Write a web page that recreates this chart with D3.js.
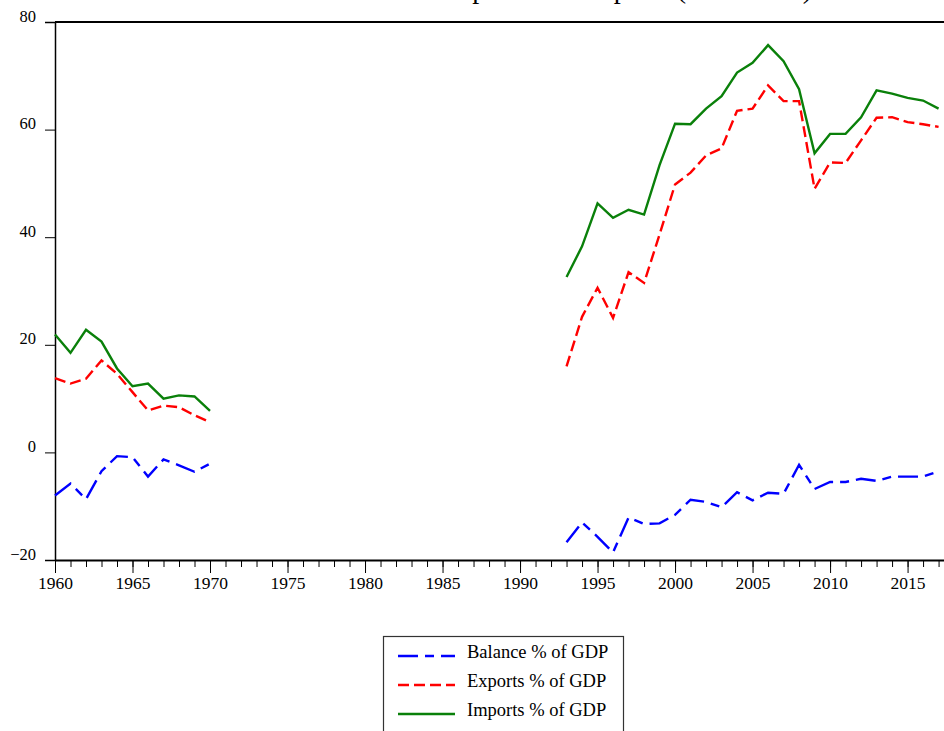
<!DOCTYPE html>
<html>
<head>
<meta charset="utf-8">
<script src="https://cdn.jsdelivr.net/npm/d3@7"></script>
<style>
  html, body { margin: 0; padding: 0; background: #fff; }
  svg { display: block; }
  text { font-family: "Liberation Serif", "DejaVu Serif", serif; fill: #000; }
</style>
</head>
<body>
<svg id="chart" width="944" height="731"></svg>
<script>
// ---- data ----
const years = d3.range(1960, 2018);
const N = null;
const balance = [-8.0, -5.8, -8.7, -3.5, -0.7, -0.9, -4.5, -1.3, -2.4, -3.6, -2.1,
  N, N, N, N, N, N, N, N, N, N, N, N, N, N, N, N, N, N, N, N, N, N,
  -16.7, -13.0, -15.7, -18.6, -12.1, -13.3, -13.2, -11.6, -8.8, -9.2, -10.2, -7.4, -8.9, -7.5, -7.7, -2.3, -6.8, -5.5, -5.5, -4.9, -5.3, -4.5, -4.5, -4.5, -3.5];
const exportsPct = [13.8, 12.8, 13.7, 17.1, 14.6, 11.2, 7.8, 8.7, 8.4, 6.9, 5.6,
  N, N, N, N, N, N, N, N, N, N, N, N, N, N, N, N, N, N, N, N, N, N,
  16.0, 25.2, 30.6, 25.0, 33.5, 31.5, 40.5, 49.8, 52.0, 55.2, 56.5, 63.5, 63.9, 68.2, 65.3, 65.3, 49.0, 53.9, 53.8, 58.0, 62.2, 62.3, 61.4, 61.0, 60.5];
const importsPct = [21.9, 18.5, 22.8, 20.6, 15.6, 12.3, 12.8, 10.0, 10.6, 10.4, 7.7,
  N, N, N, N, N, N, N, N, N, N, N, N, N, N, N, N, N, N, N, N, N, N,
  32.6, 38.3, 46.3, 43.6, 45.1, 44.2, 53.4, 61.1, 61.0, 63.9, 66.2, 70.6, 72.4, 75.7, 72.7, 67.5, 55.6, 59.2, 59.2, 62.3, 67.3, 66.7, 65.9, 65.4, 63.9];
const yTicks = [-20, 0, 20, 40, 60, 80];
const xMajorTicks = d3.range(1960, 2016, 5);
const seriesNames = ["Balance % of GDP", "Exports % of GDP", "Imports % of GDP"];
const titleText = "Imports and Exports (% of GDP)";

// ---- layout ----
const svg = d3.select("#chart");
const mLeft = 55, mRight = 944, mTop = 22, mBottom = 560;
const x = d3.scaleLinear().domain([1960, 2017.35]).range([mLeft, mRight]);
const y = d3.scaleLinear().domain([-20, 80]).range([mBottom, mTop]);

const series = [
  { name: seriesNames[0], values: balance, color: "#0000ff", dash: "20,7,9,7" },
  { name: seriesNames[1], values: exportsPct, color: "#ff0000", dash: "11,5" },
  { name: seriesNames[2], values: importsPct, color: "#0a800a", dash: null }
];

// title (cut off at top, as in the reference)
svg.append("text").attr("x", 812).attr("y", -2)
  .attr("text-anchor", "end").attr("font-size", 28).text(titleText);

// frame: top line
svg.append("line").attr("x1", mLeft).attr("x2", mRight).attr("y1", mTop).attr("y2", mTop)
  .attr("stroke", "#000").attr("stroke-width", 2);

// y axis
const yAxis = d3.axisLeft(y).tickValues(yTicks).tickSize(10).tickPadding(9).tickFormat(d3.format("d"));
const gy = svg.append("g").attr("transform", `translate(${mLeft},0)`).call(yAxis);
gy.select(".domain").attr("stroke-width", 1.5);
gy.selectAll(".tick line").attr("stroke-width", 1);
gy.selectAll(".tick text").attr("font-size", 16.5).attr("dy", "-1");

// x axis: minor ticks
const xMinor = d3.axisBottom(x).tickValues(years).tickSize(7).tickFormat("");
const gxm = svg.append("g").attr("transform", `translate(0,${mBottom})`).call(xMinor);
gxm.select(".domain").remove();
const xAxis = d3.axisBottom(x).tickValues(xMajorTicks).tickSize(13).tickPadding(4).tickFormat(d3.format("d"));
const gx = svg.append("g").attr("transform", `translate(0,${mBottom})`).call(xAxis);
gx.select(".domain").attr("d", `M${mLeft},0.5H${mRight}`).attr("stroke-width", 2);
gx.selectAll(".tick text").attr("font-size", 17.5);
svg.selectAll(".tick line").attr("stroke", "#000");

// lines
const line = d3.line()
  .defined(d => d.v !== null)
  .x(d => x(d.year)).y(d => y(d.v));

series.forEach(s => {
  const pts = years.map((yr, i) => ({ year: yr, v: s.values[i] }));
  svg.append("path").datum(pts)
    .attr("fill", "none").attr("stroke", s.color).attr("stroke-width", 2.4)
    .attr("stroke-dasharray", s.dash)
    .attr("d", line);
});

// legend
const lg = svg.append("g").attr("transform", "translate(383,636)");
lg.append("rect").attr("x", 0.5).attr("y", 0.5).attr("width", 240).attr("height", 110)
  .attr("fill", "#fff").attr("stroke", "#333").attr("stroke-width", 1.2);
series.forEach((s, i) => {
  const yy = 20 + i * 29;
  lg.append("line").attr("x1", 15).attr("x2", 72).attr("y1", yy).attr("y2", yy)
    .attr("stroke", s.color).attr("stroke-width", 2.4).attr("stroke-dasharray", s.dash);
  lg.append("text").attr("x", 84).attr("y", yy + 2)
    .attr("font-size", 18.5).text(s.name);
});
</script>
</body>
</html>
